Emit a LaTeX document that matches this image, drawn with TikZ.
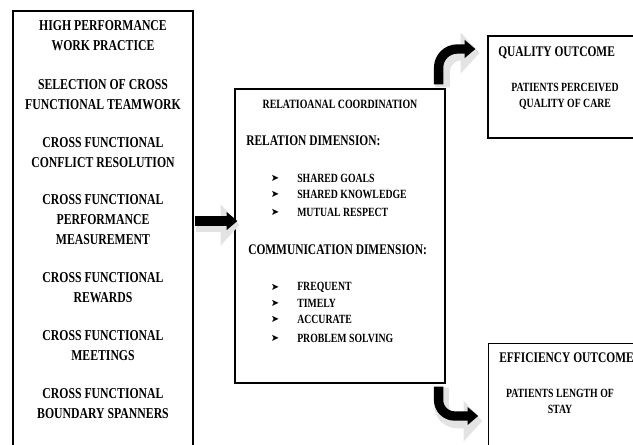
\documentclass[tikz,border=0pt]{standalone}
\usepackage{fontspec}
\setmainfont{Liberation Serif}[FakeStretch=0.78]
\newfontfamily\bulletfont{DejaVu Sans}
\usetikzlibrary{arrows.meta,calc}

\tikzset{
  panel/.style={draw, line width=0.9pt, inner sep=0pt},
  lefttxt/.style={align=center, inner sep=0pt, font=\bfseries\fontsize{11.3}{15}\selectfont},
  headtxt/.style={anchor=west, inner sep=0pt, font=\bfseries\fontsize{11}{13}\selectfont},
  itemtxt/.style={anchor=west, inner sep=0pt, font=\bfseries\fontsize{9.4}{12}\selectfont},
  bul/.style={inner sep=0pt, font=\bulletfont\fontsize{7.5}{7.5}\selectfont},
  fatarrow/.style={line width=7pt, -{Triangle[length=8pt,width=13pt]}},
  bevel/.style={line width=11pt, gray!22, -{Triangle[length=14pt,width=30pt]}},
}

\begin{document}
\begin{tikzpicture}[x=0.75pt, y=-0.75pt]
        \useasboundingbox (0,0) rectangle (633,444);
        \clip (0,0) rectangle (633,444);

        % boxes
        \node[panel, minimum width=135pt, minimum height=345pt] (hpbox) at (103,241) {};
        \node[panel, minimum width=157.5pt, minimum height=220.5pt] (rcbox) at (340,236) {};
        \node[panel, minimum width=121.5pt, minimum height=76.5pt] (qbox) at (569,87) {};
        \node[panel, minimum width=121pt, minimum height=95pt] (ebox) at (569.5,406.5) {};

        % high performance work practice
        \node[lefttxt] (hpwp) at (103,36) {HIGH PERFORMANCE\\WORK PRACTICE};
        \node[lefttxt] (select) at (103,94.5) {SELECTION OF CROSS\\FUNCTIONAL TEAMWORK};
        \node[lefttxt] (conflict) at (103,153) {CROSS FUNCTIONAL\\CONFLICT RESOLUTION};
        \node[lefttxt] (perform) at (103,220) {CROSS FUNCTIONAL\\PERFORMANCE\\MEASUREMENT};
        \node[lefttxt] (reward) at (103,288) {CROSS FUNCTIONAL\\REWARDS};
        \node[lefttxt] (meeting) at (103,346) {CROSS FUNCTIONAL\\MEETINGS};
        \node[lefttxt] (spanner) at (103,403.5) {CROSS FUNCTIONAL\\BOUNDARY SPANNERS};

        % relational coordination
        \node[inner sep=0pt, font=\bfseries\fontsize{9.5}{12}\selectfont] (rctitle) at (340,104) {RELATIOANAL COORDINATION};
        \node[headtxt] (reldim) at (246,141) {RELATION DIMENSION:};
        \node[bul] (b1) at (275,178) {➤};
        \node[bul] (b2) at (275,194) {➤};
        \node[bul] (b3) at (275,212) {➤};
        \node[itemtxt] (goals) at (297,178) {SHARED GOALS};
        \node[itemtxt] (knowledge) at (297,194) {SHARED KNOWLEDGE};
        \node[itemtxt] (respect) at (297,212) {MUTUAL RESPECT};
        \node[headtxt] (comdim) at (248,250) {COMMUNICATION DIMENSION:};
        \node[bul] (b4) at (275,287) {➤};
        \node[bul] (b5) at (275,303) {➤};
        \node[bul] (b6) at (275,319) {➤};
        \node[bul] (b7) at (275,338) {➤};
        \node[itemtxt] (frequent) at (297,287) {FREQUENT};
        \node[itemtxt] (timely) at (297,303) {TIMELY};
        \node[itemtxt] (accurate) at (297,319) {ACCURATE};
        \node[itemtxt] (problem) at (297,338) {PROBLEM SOLVING};

        % outcomes
        \node[headtxt] (quality) at (498,53) {QUALITY OUTCOME};
        \node[itemtxt, anchor=center, align=center] (perceived) at (565,96.5) {PATIENTS PERCEIVED\\QUALITY OF CARE};
        \node[headtxt] (efficiency) at (499,358) {EFFICIENCY OUTCOME};
        \node[itemtxt, anchor=center, align=center] (stay) at (560,401) {PATIENTS LENGTH OF\\STAY};

        % arrows
        \coordinate (s1) at ($(hpbox.east |- 0,221)+(1,0)$);
        \coordinate (s2) at ($(rcbox.north east)+(-7,-4)$);
        \coordinate (s3) at ($(rcbox.south east)+(-7,3)$);
        \draw[bevel] ($(s1)+(1,4)$) -- ($(rcbox.west |- 0,225)+(5,0)$);
        \draw[fatarrow] (s1) -- ($(rcbox.west |- 0,221)+(3,0)$);
        \draw[bevel, rounded corners=14pt] ($(s2)+(4,3)$) |- ($(qbox.west |- 0,53)+(-8,0)$);
        \draw[fatarrow, rounded corners=14pt] (s2) |- ($(qbox.west |- 0,49)+(-12,0)$);
        \draw[bevel, rounded corners=12pt] ($(s3)+(3,1)$) |- ($(ebox.west |- 0,421)+(-6,0)$);
        \draw[fatarrow, rounded corners=12pt] (s3) |- ($(ebox.west |- 0,416)+(-10,0)$);
\end{tikzpicture}
\end{document}
